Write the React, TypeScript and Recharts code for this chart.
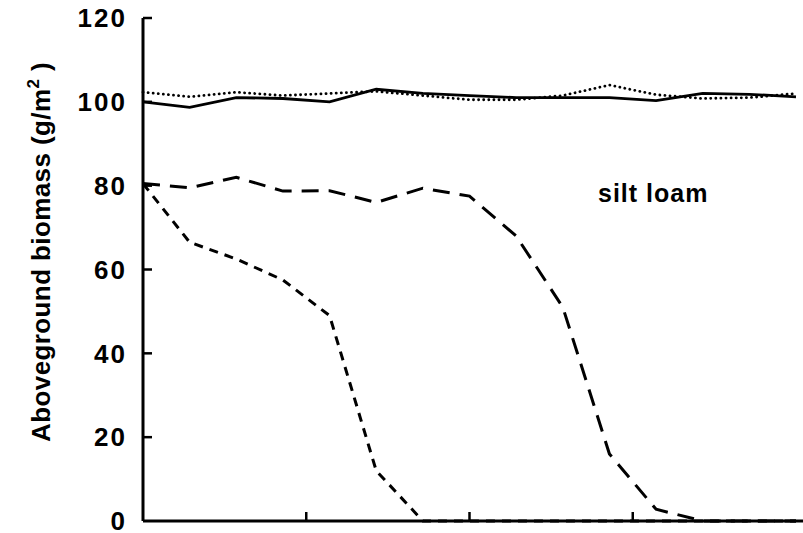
import React from 'react';
import { ComposedChart, Line, Scatter, XAxis, YAxis, Customized } from 'recharts';

// years since start, sampled every 2
const years = [0, 2, 4, 6, 8, 10, 12, 14, 16, 18, 20, 22, 24, 26, 28];
const solidSeries = [100, 98.7, 101, 100.8, 100, 103, 102, 101.5, 101, 101, 101, 100.3, 102, 101.8, 101.2];
const dottedSeries = [102.3, 101.2, 102.3, 101.5, 102, 102.5, 101.5, 100.5, 100.5, 101.5, 104, 101.7, 100.8, 101, 102];
const longDashSeries = [80.5, 79.5, 82, 78.7, 78.8, 76, 79.4, 77.5, 68, 51, 16, 2.8, 0, 0, 0];
const shortDashSeries = [80.5, 66.5, 62.5, 57.5, 49, 12, 0, 0, 0, 0, 0, 0, 0, 0, 0];
const yTicks = [0, 20, 40, 60, 80, 100, 120];
const xTicks = [7, 14, 21];

const FONT = '"Liberation Sans", Arial, Helvetica, sans-serif';

const data = years.map((yr, i) => ({
  yr,
  solid: solidSeries[i],
  dotted: dottedSeries[i],
  longDash: longDashSeries[i],
  shortDash: shortDashSeries[i],
}));

// inward tick marks, placed through the chart scales
const yMarks = yTicks.slice(1).map((t) => ({ yr: 0, mark: t }));
const xMarks = xTicks.map((t) => ({ yr: t, mark: 0 }));

const YMark = (p: any) => (
  <path d={`M${p.cx},${p.cy}h9`} stroke="#000" strokeWidth={2.5} fill="none" />
);
const XMark = (p: any) => (
  <path d={`M${p.cx},${p.cy}v-9`} stroke="#000" strokeWidth={2.5} fill="none" />
);

function Labels() {
  return (
    <g>
      <text
        x={50}
        y={252}
        transform="rotate(-90, 50, 252)"
        textAnchor="middle"
        fontFamily={FONT}
        fontWeight="bold"
        fontSize={26}
        letterSpacing={0.4}
        fill="#000"
      >
        Aboveground biomass (g/m
        <tspan dy={-11} fontSize={17}>2</tspan>
        <tspan dy={11}> )</tspan>
      </text>
      <text
        x={598}
        y={202}
        fontFamily={FONT}
        fontWeight="bold"
        fontSize={25}
        letterSpacing={1}
        fill="#000"
      >
        silt loam
      </text>
    </g>
  );
}

export default function App() {
  return (
    <div style={{ width: 803, height: 533, background: '#fff' }}>
      <style>{'body{margin:0}'}</style>
      <ComposedChart width={803} height={533} data={data} margin={{ top: 18, right: 0, bottom: 0, left: 0 }}>
        <XAxis
          dataKey="yr"
          type="number"
          domain={[0, 28.3]}
          ticks={xTicks}
          height={12}
          tick={false}
          tickLine={false}
          axisLine={{ stroke: '#000', strokeWidth: 3 }}
        />
        <YAxis
          type="number"
          domain={[0, 120]}
          ticks={yTicks}
          interval={0}
          width={143}
          tickSize={0}
          tickMargin={16}
          tickLine={false}
          tick={{ fontFamily: FONT, fontWeight: 'bold', fontSize: 26, letterSpacing: 2, fill: '#000' }}
          axisLine={{ stroke: '#000', strokeWidth: 3 }}
        />
        <Scatter data={yMarks} dataKey="mark" shape={YMark} isAnimationActive={false} />
        <Scatter data={xMarks} dataKey="mark" shape={XMark} isAnimationActive={false} />
        <Line
          dataKey="solid"
          type="linear"
          stroke="#000"
          strokeWidth={2.8}
          dot={false}
          activeDot={false}
          isAnimationActive={false}
        />
        <Line
          dataKey="dotted"
          type="linear"
          stroke="#000"
          strokeWidth={2.8}
          strokeDasharray="0.1 5"
          strokeLinecap="round"
          dot={false}
          activeDot={false}
          isAnimationActive={false}
        />
        <Line
          dataKey="longDash"
          type="linear"
          stroke="#000"
          strokeWidth={3}
          strokeDasharray="17 10"
          dot={false}
          activeDot={false}
          isAnimationActive={false}
        />
        <Line
          dataKey="shortDash"
          type="linear"
          stroke="#000"
          strokeWidth={3}
          strokeDasharray="9 7"
          dot={false}
          activeDot={false}
          isAnimationActive={false}
        />
        <Customized component={Labels} />
      </ComposedChart>
    </div>
  );
}
